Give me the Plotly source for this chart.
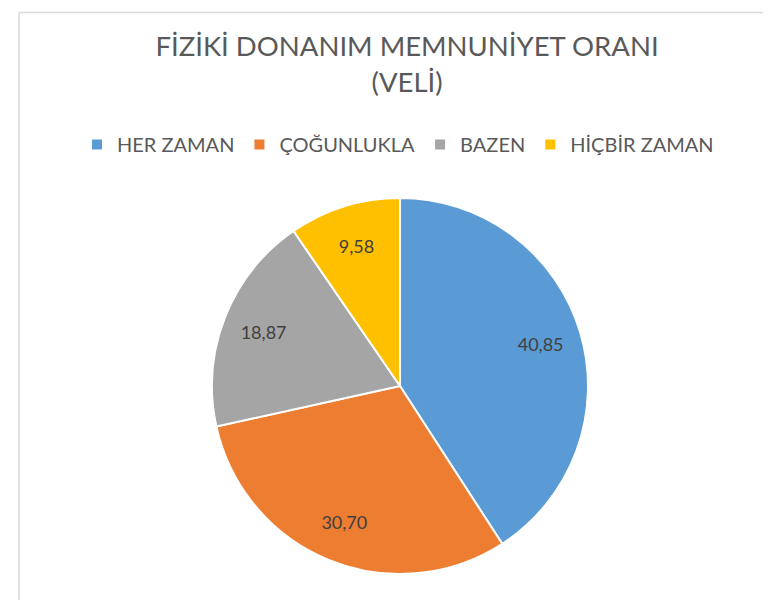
import plotly.graph_objects as go

categories = ["HER ZAMAN", "ÇOĞUNLUKLA", "BAZEN", "HİÇBİR ZAMAN"]
values = [40.85, 30.70, 18.87, 9.58]
value_labels = ["40,85", "30,70", "18,87", "9,58"]
colors = ["#5B9BD5", "#ED7D31", "#A5A5A5", "#FFC000"]

W, H = 771, 600
cx, cy, r = 392, 378, 188
domain = dict(x=[(cx - r) / W, (cx + r) / W], y=[1 - (cy + r) / H, 1 - (cy - r) / H])

fig = go.Figure()
# visible pie (slices + legend)
fig.add_trace(go.Pie(
    labels=categories,
    values=values,
    textinfo="none",
    marker=dict(colors=colors, line=dict(color="white", width=2)),
    sort=False,
    direction="clockwise",
    rotation=0,
    domain=domain,
    hoverinfo="label+value",
))
# transparent donut overlay used only to place value labels further out
fig.add_trace(go.Pie(
    labels=categories,
    values=values,
    text=value_labels,
    textinfo="text",
    textposition="inside",
    insidetextorientation="horizontal",
    textfont=dict(family="Lato", size=18, color="#404040"),
    marker=dict(colors=["rgba(0,0,0,0)"] * 4, line=dict(width=0)),
    hole=0.56,
    sort=False,
    direction="clockwise",
    rotation=0,
    domain=domain,
    showlegend=False,
    hoverinfo="skip",
))

fig.update_layout(
    width=W, height=H,
    margin=dict(l=0, r=0, t=0, b=0),
    paper_bgcolor="white",
    plot_bgcolor="white",
    font=dict(family="Lato", color="#595959"),
    title=dict(
        text="FİZİKİ DONANIM MEMNUNİYET ORANI<br>(VELİ)",
        x=399 / W, xanchor="center",
        y=1 - 48 / H, yanchor="top", yref="paper",
        font=dict(family="Lato", size=27.5, color="#595959"),
    ),
    legend=dict(
        orientation="h",
        x=390 / W, xanchor="center",
        y=1 - 117 / H, yanchor="top",
        font=dict(family="Lato", size=20, color="#595959"),
        itemsizing="constant",
        traceorder="normal",
    ),
    shapes=[
        dict(type="line", xref="paper", yref="paper", x0=11 / W, x1=1, y0=1 - 4.5 / H, y1=1 - 4.5 / H,
             line=dict(color="#D9D9D9", width=1.5)),
        dict(type="line", xref="paper", yref="paper", x0=11 / W, x1=11 / W, y0=0, y1=1 - 4.5 / H,
             line=dict(color="#D9D9D9", width=1.5)),
    ],
)

fig.write_html("out.html")
